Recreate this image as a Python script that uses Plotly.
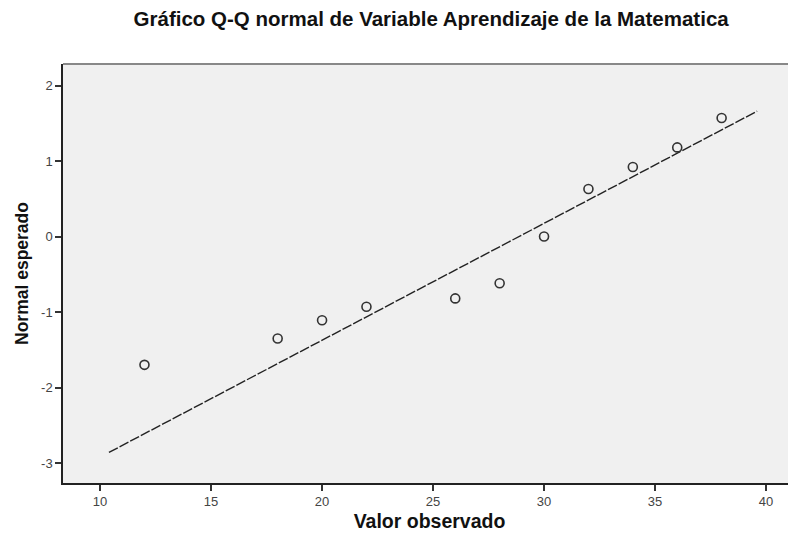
import plotly.graph_objects as go

valor_observado = [12, 18, 20, 22, 26, 28, 30, 32, 34, 36, 38]
normal_esperado = [-1.70, -1.35, -1.11, -0.93, -0.82, -0.62, 0.00, 0.63, 0.92, 1.18, 1.57]

# reference line end points
linea_x = [10.4, 39.6]
linea_y = [-2.86, 1.66]

x_ticks = [10, 15, 20, 25, 30, 35, 40]
y_ticks = [-3, -2, -1, 0, 1, 2]
y_labels = ["-3", "-2", "-1", "0", "1", "2"]

fig = go.Figure()
fig.add_trace(go.Scatter(
    x=linea_x, y=linea_y, mode="lines",
    line=dict(color="#222222", width=1.4, dash="10px,2px"),
    hoverinfo="skip"))
fig.add_trace(go.Scatter(
    x=valor_observado, y=normal_esperado, mode="markers",
    marker=dict(symbol="circle-open", size=9, color="#333333", line=dict(width=1.6))))

# the page body has an 8px margin, so the figure is sized to fill the rest
fig.update_layout(
    width=788, height=525,
    margin=dict(l=55, r=0, t=56, b=50, autoexpand=False),
    paper_bgcolor="white", plot_bgcolor="#f0f0f0",
    showlegend=False,
    font=dict(family="Arial, Liberation Sans, sans-serif", color="#333333"),
    title=dict(text="<b>Gráfico Q-Q normal de Variable Aprendizaje de la Matematica</b>",
               x=0.537, xanchor="center", y=0.979, yanchor="middle",
               font=dict(size=20.5, color="#111111")),
)
fig.update_xaxes(
    range=[8.33, 41.35], tickvals=x_ticks, ticks="outside", ticklen=6, tickwidth=1.5,
    tickcolor="#333333", showgrid=False, zeroline=False,
    showline=True, linecolor="#222222", linewidth=1.5, mirror=False,
    tickfont=dict(size=13, color="#444444"),
    title=dict(text="<b>Valor observado</b>", font=dict(size=19.5, color="#111111"), standoff=6))
fig.update_yaxes(
    range=[-3.265, 2.285], tickvals=y_ticks, ticktext=y_labels, ticks="outside",
    ticklen=6, tickwidth=1.5,
    tickcolor="#333333", showgrid=False, zeroline=False,
    showline=True, linecolor="#222222", linewidth=1.5,
    tickfont=dict(size=13, color="#444444"),
    title=dict(text="<b>Normal esperado</b>", font=dict(size=17.5, color="#111111"), standoff=8))

# gray top border of the plot box
fig.add_shape(type="line", xref="paper", yref="paper", x0=0, x1=1, y0=1, y1=1,
              line=dict(color="#888888", width=2))

fig.write_html("out.html")
